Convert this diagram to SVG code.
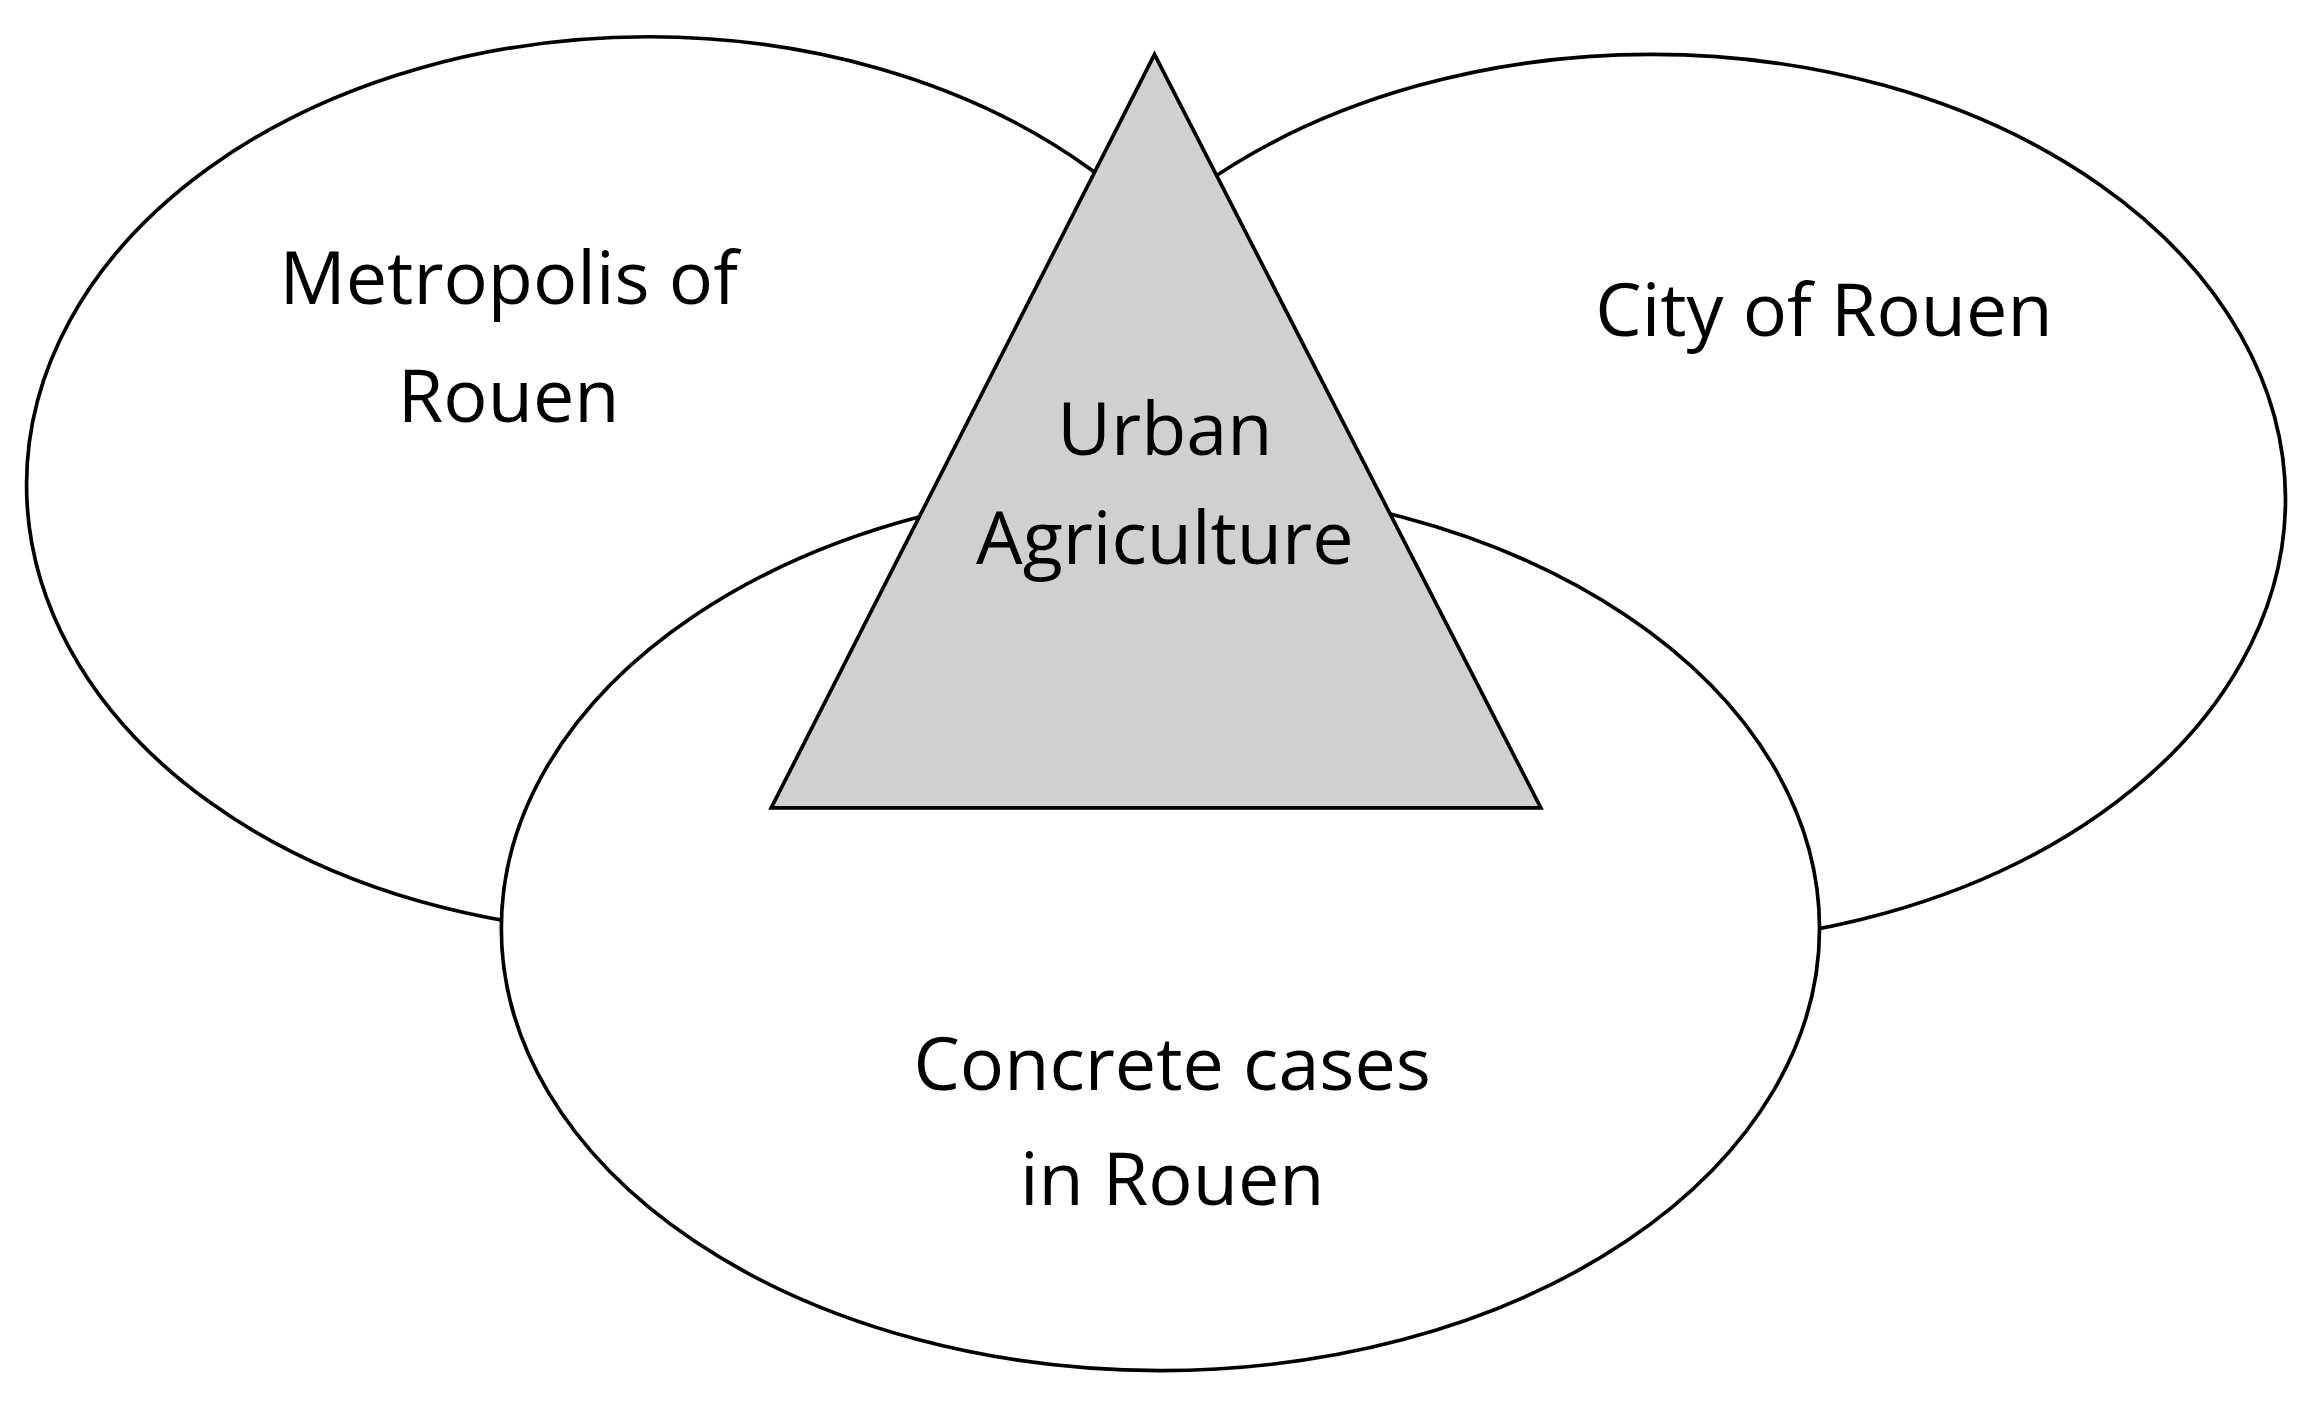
<svg xmlns="http://www.w3.org/2000/svg" width="2312" height="1410" viewBox="0 0 2312 1410">
<style>
.s{fill:#fff;stroke:#000;stroke-width:2.5}
.t{font-family:"Open Sans","Liberation Sans",sans-serif;font-size:50px;fill:#000;text-anchor:middle}
</style>
<rect width="2312" height="1410" fill="#fff"/>
<g transform="scale(1.4745,1.469)">
<g id="metropolis"><ellipse class="s" cx="440" cy="330" rx="422" ry="305"/>
<text class="t" x="345" y="207">Metropolis of</text><text class="t" x="345" y="287">Rouen</text></g>
<g id="city"><ellipse class="s" cx="1120" cy="340" rx="430" ry="303"/>
<text class="t" x="1237" y="229">City of Rouen</text></g>
<g id="cases"><ellipse class="s" cx="787" cy="632" rx="447" ry="301"/>
<text class="t" x="795" y="742">Concrete cases</text><text class="t" x="795" y="820">in Rouen</text></g>
<g id="urban"><polygon points="783,37 1045,550 523,550" fill="#d0d0d0" stroke="#000" stroke-width="2.5"/>
<text class="t" x="790" y="310">Urban</text><text class="t" x="790" y="384">Agriculture</text></g>
<g id="connectors"/>
</g>
</svg>
